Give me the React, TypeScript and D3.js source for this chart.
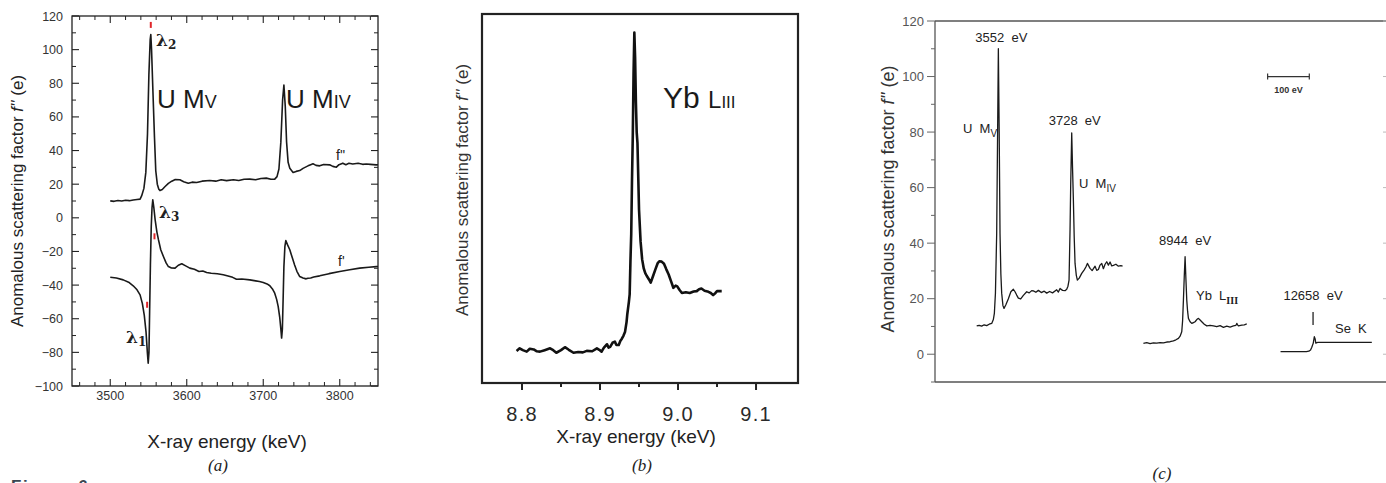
import React from 'react';
import * as d3 from 'd3';

// ---------------- Panel (a): U M edges, f'' and f' ----------------
const aXTicks = [3500, 3600, 3700, 3800];
const aYTicks = [-100, -80, -60, -40, -20, 0, 20, 40, 60, 80, 100, 120];
const aFpp: [number, number][] = [
  [3500, 10.1], [3505, 9.8], [3510, 10.3], [3515, 10], [3520, 10.4], [3525, 10.2], [3530, 10.6], [3535, 10.9],
  [3539, 11.1], [3541, 13], [3544, 17.5], [3546.5, 27], [3548.7, 50], [3550.5, 85], [3552.2, 106], [3553, 109],
  [3554, 100], [3555.8, 75], [3557.8, 48], [3559.5, 28], [3561.5, 20], [3563.5, 17], [3565, 16.2], [3568, 16.8],
  [3571.7, 18.6], [3576, 20.5], [3580.4, 21.8], [3585, 22.8], [3591, 22.6], [3596, 21.5], [3602, 20.6],
  [3607, 21.2], [3613, 21], [3620, 21.8], [3630, 22.2], [3638, 21.8], [3645, 22.6], [3652, 22.1], [3661, 22.6],
  [3668, 22.2], [3675, 22.9], [3682.5, 23], [3690, 22.6], [3697, 23.4], [3704, 23.6], [3710, 22.9], [3715, 23],
  [3718, 24.5], [3720.5, 29], [3723, 45], [3725.3, 70], [3727, 79], [3728.8, 66], [3730.5, 45], [3732.5, 33],
  [3734.7, 29.5], [3739, 27], [3743, 27.6], [3747.7, 28.1], [3752, 29.4], [3758.5, 30.9], [3762, 31.6],
  [3765, 32.1], [3769, 31.2], [3773.8, 30.9], [3779, 31.7], [3786.8, 31.5], [3791, 30.6], [3795.6, 30.1],
  [3799, 31.6], [3804, 32.5], [3808, 31.6], [3812, 32.4], [3817, 32], [3824, 32.4], [3830, 31.8],
  [3834.7, 32], [3840, 31.8], [3847.7, 31.5], [3850, 31.6],
];
const aFp: [number, number][] = [
  [3500, -35.3], [3508, -35.8], [3517, -36.9], [3524, -38.3], [3530, -40.4], [3535, -42.8], [3539, -45.8],
  [3542, -51], [3544.5, -58], [3546.8, -68], [3548.5, -80], [3549.6, -86.5], [3550.6, -80], [3551.5, -55],
  [3552.5, -28], [3553.6, -5], [3554.6, 6], [3555.6, 10.7], [3557, 6], [3558.7, -1.2], [3561, -8.5],
  [3563, -13], [3566, -19], [3569.5, -23], [3573, -26.8], [3576, -29], [3580, -29.8], [3584.7, -29.9],
  [3589, -28.2], [3593.5, -27.3], [3598, -28.4], [3604, -29.9], [3610, -30.6], [3616, -31.9], [3621, -31.6],
  [3626, -32.5], [3632, -33], [3640, -33.3], [3647.7, -33.9], [3654, -34.6], [3660, -35.4], [3665, -36.5],
  [3672, -36.4], [3682.5, -36.9], [3690, -37.5], [3695, -37.9], [3700, -38.5], [3705, -39.3], [3708.6, -40.4],
  [3712, -42.3], [3715, -44.8], [3717.5, -48.5], [3719.5, -52.7], [3721.5, -59], [3723, -66], [3724, -71.5],
  [3725, -66], [3726, -48], [3727, -29], [3728.3, -17], [3729.5, -13.5], [3731.5, -15.8], [3734.7, -19],
  [3738, -23.8], [3741, -28], [3744, -31.8], [3747.7, -34.9], [3752, -35.8], [3756, -36.3], [3758.5, -35.9],
  [3762, -35.8], [3766, -35.2], [3773.8, -34.5], [3786, -33.2], [3800, -31.9], [3813, -30.9], [3826, -29.9],
  [3838, -29.4], [3847.7, -29], [3850, -28.9],
];
const aMarkers: [number, number][] = [[3548.2, -51.7], [3553, 114.7], [3557.8, -11]];

// ---------------- Panel (b): Yb L_III ----------------
const bXTicks = [8.8, 8.9, 9.0, 9.1];
const bXTickLabels = ['8.8', '8.9', '9.0', '9.1'];
const bXMinorTicks = [8.85, 8.95, 9.05];
const bYb: [number, number][] = [
  [8.793, 8.7], [8.797, 9.4], [8.801, 8.9], [8.806, 8.5], [8.810, 9.3], [8.815, 9.1], [8.819, 8.6],
  [8.823, 8.5], [8.829, 8.9], [8.836, 9.4], [8.840, 8.9], [8.844, 8.2], [8.850, 8.9], [8.855, 9.7],
  [8.860, 9.0], [8.866, 8.2], [8.872, 8.4], [8.878, 8.3], [8.883, 8.7], [8.890, 8.6], [8.896, 9.4],
  [8.899, 9.0], [8.902, 8.5], [8.905, 9.6], [8.909, 10.5], [8.911, 9.6], [8.913, 9.8], [8.916, 10.9],
  [8.919, 11.2], [8.921, 10.3], [8.924, 10.3], [8.926, 11.4], [8.928, 12], [8.930, 12.8], [8.932, 13.8],
  [8.934, 16.5], [8.935, 18.7], [8.937, 22], [8.938, 24], [8.939, 33], [8.940, 40.3], [8.941, 55],
  [8.942, 67], [8.943, 84], [8.944, 95], [8.945, 88], [8.946, 76], [8.947, 68], [8.948, 65], [8.949, 56],
  [8.950, 47], [8.952, 38.3], [8.954, 33.5], [8.956, 31.1], [8.958, 29.8], [8.960, 29], [8.963, 28],
  [8.965, 27.2], [8.968, 29], [8.971, 30.8], [8.974, 32.5], [8.976, 33], [8.979, 32.9], [8.982, 32.3],
  [8.985, 30.8], [8.988, 29.4], [8.991, 27.6], [8.994, 25.8], [8.997, 26.4], [8.999, 26.2], [9.002, 25.2],
  [9.005, 24.4], [9.010, 24.6], [9.015, 24.4], [9.020, 24.8], [9.024, 24.9], [9.027, 25.4], [9.030, 25.6],
  [9.034, 25], [9.039, 24.7], [9.042, 24.4], [9.045, 23.8], [9.048, 24.4], [9.050, 24.9], [9.056, 24.9],
];

// ---------------- Panel (c): f'' of several edges ----------------
const cYTicks = [0, 20, 40, 60, 80, 100, 120];
const cYMinorTicks = [-10, 10, 30, 50, 70, 90, 110];
// energy offsets (eV) used to place each spectrum piece on the broken energy axis
const cOffsetU = 0;
const cOffsetYb = 4944;
const cOffsetSe = 8351;
const cU: [number, number][] = [
  [3500, 10.2], [3506, 10.4], [3512, 10.1], [3518, 10.6], [3524, 10.3], [3530, 10.8], [3536, 11.1],
  [3540, 12.5], [3542.4, 14.7], [3545, 22], [3548, 43.5], [3550.5, 85], [3552, 110], [3554, 80],
  [3556, 43.5], [3558, 29], [3560, 22], [3563, 17.5], [3565.6, 16.5], [3570, 17.8], [3576, 20],
  [3582, 22.5], [3588, 23.4], [3592, 22.5], [3596, 21.3], [3600, 20.2], [3605.6, 19.9], [3612, 21.2],
  [3620, 22.5], [3626, 22.1], [3632, 22.9], [3636, 22.8], [3642, 22.3], [3648, 23], [3655, 22.2],
  [3662, 22.7], [3668, 22], [3675, 22.6], [3682, 22.1], [3692, 23.2], [3696, 22.4], [3700, 23.7],
  [3706, 23], [3712, 22.9], [3716, 23.4], [3719, 24.5], [3721.6, 26.7], [3724, 45], [3725.6, 61.5],
  [3728, 79.7], [3730, 67], [3732, 55.5], [3734, 42], [3736, 32.7], [3739, 28.4], [3741.6, 26.7],
  [3746, 27.4], [3752, 29.1], [3758, 30.4], [3762, 31.4], [3765.6, 32.7], [3772, 30.9], [3777, 30.1],
  [3784, 31.7], [3788, 30.2], [3792, 30.5], [3796, 32.1], [3800, 32.7], [3804, 30.8], [3808, 32.4],
  [3812, 33.3], [3816, 32.1], [3820, 33.2], [3824, 31.8], [3828, 32], [3834, 32.4], [3840, 31.7],
  [3846, 31.9], [3850, 31.7],
];
const cYb: [number, number][] = [
  [8844, 3.95], [8852, 4.2], [8860, 3.8], [8868, 4.1], [8876, 4], [8884, 4.2], [8892, 4.1], [8900, 4.4],
  [8908, 4.5], [8916, 4.8], [8922, 5.2], [8928, 5.7], [8932, 6.5], [8936, 8.1], [8938, 12], [8940, 19.5],
  [8942, 28], [8944, 35.1], [8946, 27], [8948, 19.5], [8950, 15.5], [8952, 12.9], [8956, 11.7], [8960, 11.1],
  [8964, 11.4], [8968, 11.7], [8972, 12.5], [8976, 12.9], [8980, 12.3], [8984, 11.7], [8990, 10.8],
  [8996, 10.2], [9004, 10.4], [9012, 10.2], [9020, 9.9], [9028, 10.3], [9036, 9.7], [9044, 10.1],
  [9052, 9.8], [9060, 10.2], [9066, 10.4], [9068, 11.1], [9070, 10.6], [9072, 10.2], [9080, 10.5],
  [9086, 10.6], [9092, 10.9],
];
const cSe: [number, number][] = [
  [12580, 0.95], [12600, 0.95], [12620, 0.95], [12642, 0.95], [12648, 1.1], [12652, 1.5], [12655, 2.5],
  [12658.5, 4], [12661, 6.3], [12663, 5.5], [12664.6, 4], [12667, 4.2], [12670, 4.3], [12700, 4.3],
  [12750, 4.3], [12799, 4.3],
];
const cScaleBar = { start: 4198, length: 100, level: 100 };

const FONT = 'Liberation Sans, Arial, Helvetica, sans-serif';

export default function App() {
  // ---- scales ----
  const xA = d3.scaleLinear().domain([3450, 3850]).range([72, 378]);
  const yA = d3.scaleLinear().domain([-100, 120]).range([386, 16]);
  const xB = d3.scaleLinear().domain([8.7487, 9.1538]).range([482, 798]);
  const yB = d3.scaleLinear().domain([0, 100]).range([383, 14]);
  const xC = d3.scaleLinear().domain([3400, 4482]).range([935, 1386]);
  const yC = d3.scaleLinear().domain([-10, 120]).range([382, 21]);

  const lineA = d3.line<[number, number]>().x(d => xA(d[0])).y(d => yA(d[1]));
  const lineB = d3.line<[number, number]>().x(d => xB(d[0])).y(d => yB(d[1]));
  const lineC = (off: number) =>
    d3.line<[number, number]>().x(d => xC(d[0] - off)).y(d => yC(d[1]));

  const [ax0, ax1] = xA.range();
  const [ay0, ay1] = [yA.range()[1], yA.range()[0]];
  const aXMinor = d3.range(3460, 3850, 20).filter(v => v % 100 !== 0);
  const aYMinor = d3.range(-90, 120, 10).filter(v => v % 20 !== 0);
  const fmt = (v: number) => String(v).replace('-', '\u2212');

  const [bx0, bx1] = xB.range();
  const [by1, by0] = yB.range();
  const [cx0, cx1] = xC.range();
  const [cy1, cy0] = yC.range();

  return (
    <svg width={1386} height={483} style={{ position: 'absolute', left: 0, top: 0, background: '#fff' }}
      fontFamily={FONT}>
      <rect x={0} y={0} width={1386} height={483} fill="#fff" />

      {/* ================= Panel (a) ================= */}
      <g>
        <rect x={ax0} y={ay0} width={ax1 - ax0} height={ay1 - ay0} fill="none" stroke="#222" strokeWidth={1.3} />
        {aXTicks.map(t => (
          <g key={'axt' + t}>
            <line x1={xA(t)} x2={xA(t)} y1={ay1} y2={ay1 - 7} stroke="#222" strokeWidth={1.1} />
            <line x1={xA(t)} x2={xA(t)} y1={ay0} y2={ay0 + 7} stroke="#222" strokeWidth={1.1} />
            <text x={xA(t)} y={400} fontSize={12.5} textAnchor="middle" fill="#333">{t}</text>
          </g>
        ))}
        {aXMinor.map(t => (
          <g key={'axm' + t}>
            <line x1={xA(t)} x2={xA(t)} y1={ay1} y2={ay1 - 4} stroke="#222" strokeWidth={1} />
            <line x1={xA(t)} x2={xA(t)} y1={ay0} y2={ay0 + 4} stroke="#222" strokeWidth={1} />
          </g>
        ))}
        {aYTicks.map(t => (
          <g key={'ayt' + t}>
            <line x1={ax0} x2={ax0 + 7} y1={yA(t)} y2={yA(t)} stroke="#222" strokeWidth={1.1} />
            <line x1={ax1} x2={ax1 - 7} y1={yA(t)} y2={yA(t)} stroke="#222" strokeWidth={1.1} />
            <text x={63} y={yA(t) + 4.5} fontSize={12.5} textAnchor="end" fill="#333">{fmt(t)}</text>
          </g>
        ))}
        {aYMinor.map(t => (
          <g key={'aym' + t}>
            <line x1={ax0} x2={ax0 + 4} y1={yA(t)} y2={yA(t)} stroke="#222" strokeWidth={1} />
            <line x1={ax1} x2={ax1 - 4} y1={yA(t)} y2={yA(t)} stroke="#222" strokeWidth={1} />
          </g>
        ))}
        <path d={lineA(aFpp) || ''} fill="none" stroke="#1a1a1a" strokeWidth={1.6} strokeLinejoin="round" />
        <path d={lineA(aFp) || ''} fill="none" stroke="#1a1a1a" strokeWidth={1.6} strokeLinejoin="round" />
        {aMarkers.map((m, i) => (
          <line key={'am' + i} x1={xA(m[0])} x2={xA(m[0])} y1={yA(m[1]) - 3} y2={yA(m[1]) + 3}
            stroke="#e0262a" strokeWidth={2} />
        ))}
        {/* annotations */}
        <text x={156} y={46} fontSize={17} fontWeight="bold" fill="#222" fontFamily="DejaVu Serif, serif">
          λ<tspan fontSize={12} dy={3}>2</tspan>
        </text>
        <text x={159} y={218} fontSize={17} fontWeight="bold" fill="#222" fontFamily="DejaVu Serif, serif">
          λ<tspan fontSize={12} dy={3}>3</tspan>
        </text>
        <text x={126} y={343} fontSize={17} fontWeight="bold" fill="#222" fontFamily="DejaVu Serif, serif">
          λ<tspan fontSize={12} dy={3}>1</tspan>
        </text>
        <text x={157} y={108} fontSize={26} fill="#1a1a1a">U <tspan>M</tspan><tspan fontSize={18}>V</tspan></text>
        <text x={286} y={108} fontSize={26} fill="#1a1a1a">U <tspan>M</tspan><tspan fontSize={18}>IV</tspan></text>
        <text x={336} y={160} fontSize={14} fill="#222">f''</text>
        <text x={338} y={266} fontSize={14} fill="#222">f'</text>
        {/* axis labels */}
        <text transform="translate(23,201) rotate(-90)" fontSize={17} textAnchor="middle" fill="#222">
          Anomalous scattering factor <tspan fontStyle="italic">f''</tspan> (e)
        </text>
        <text x={227} y={448} fontSize={19} textAnchor="middle" fill="#222">X-ray energy (keV)</text>
        <text x={218} y={471} fontSize={17} textAnchor="middle" fontStyle="italic" fill="#222"
          fontFamily="Liberation Serif, Times New Roman, serif">(a)</text>
        <text x={11} y={492} fontSize={17} fontWeight="bold" fill="#3a4652" letterSpacing={1.5}>Figure 6</text>
      </g>

      {/* ================= Panel (b) ================= */}
      <g>
        <rect x={bx0} y={by0} width={bx1 - bx0} height={by1 - by0} fill="none" stroke="#222" strokeWidth={2.2} />
        {bXTicks.map((t, i) => (
          <g key={'bxt' + t}>
            <line x1={xB(t)} x2={xB(t)} y1={by1} y2={by1 + 7} stroke="#222" strokeWidth={2} />
            <text x={xB(t)} y={421} fontSize={20} textAnchor="middle" fill="#2a2a2a" letterSpacing={1.2}>
              {bXTickLabels[i]}
            </text>
          </g>
        ))}
        {bXMinorTicks.map(t => (
          <line key={'bxm' + t} x1={xB(t)} x2={xB(t)} y1={by1} y2={by1 + 4} stroke="#222" strokeWidth={2} />
        ))}
        <path d={lineB(bYb) || ''} fill="none" stroke="#111" strokeWidth={2.6} strokeLinejoin="round" />
        <text x={663} y={108} fontSize={30} fill="#1a1a1a">Yb <tspan fontSize={24}>L</tspan><tspan fontSize={17}>III</tspan></text>
        <text transform="translate(468,190) rotate(-90)" fontSize={17} textAnchor="middle" fill="#333">
          Anomalous scattering factor <tspan fontStyle="italic">f''</tspan> (e)
        </text>
        <text x={636} y={443} fontSize={19} textAnchor="middle" fill="#222">X-ray energy (keV)</text>
        <text x={642} y={471} fontSize={17} textAnchor="middle" fontStyle="italic" fill="#222"
          fontFamily="Liberation Serif, Times New Roman, serif">(b)</text>
      </g>

      {/* ================= Panel (c) ================= */}
      <g>
        <line x1={cx0} x2={cx0} y1={cy0} y2={cy1} stroke="#555" strokeWidth={1.3} />
        <line x1={cx0} x2={cx1} y1={cy0} y2={cy0} stroke="#555" strokeWidth={1.3} />
        <line x1={cx0} x2={cx1} y1={cy1} y2={cy1} stroke="#555" strokeWidth={1.3} />
        {cYTicks.map(t => (
          <g key={'cyt' + t}>
            <line x1={cx0} x2={cx0 - 8} y1={yC(t)} y2={yC(t)} stroke="#666" strokeWidth={1} />
            <line x1={cx1} x2={cx1 - 3} y1={yC(t)} y2={yC(t)} stroke="#bbb" strokeWidth={1} />
            <text x={924} y={yC(t) + 4.5} fontSize={13} textAnchor="end" fill="#555">{t}</text>
          </g>
        ))}
        {cYMinorTicks.map(t => (
          <line key={'cym' + t} x1={cx0} x2={cx0 - 4} y1={yC(t)} y2={yC(t)} stroke="#666" strokeWidth={1} />
        ))}
        <path d={lineC(cOffsetU)(cU) || ''} fill="none" stroke="#1a1a1a" strokeWidth={1.3} strokeLinejoin="round" />
        <path d={lineC(cOffsetYb)(cYb) || ''} fill="none" stroke="#1a1a1a" strokeWidth={1.3} strokeLinejoin="round" />
        <path d={lineC(cOffsetSe)(cSe) || ''} fill="none" stroke="#1a1a1a" strokeWidth={1.3} strokeLinejoin="round" />
        {/* scale bar */}
        <line x1={xC(cScaleBar.start)} x2={xC(cScaleBar.start + cScaleBar.length)}
          y1={yC(cScaleBar.level)} y2={yC(cScaleBar.level)} stroke="#333" strokeWidth={1.3} />
        <line x1={xC(cScaleBar.start)} x2={xC(cScaleBar.start)} y1={yC(cScaleBar.level) - 3} y2={yC(cScaleBar.level) + 3} stroke="#333" strokeWidth={1.2} />
        <line x1={xC(cScaleBar.start + cScaleBar.length)} x2={xC(cScaleBar.start + cScaleBar.length)} y1={yC(cScaleBar.level) - 3} y2={yC(cScaleBar.level) + 3} stroke="#333" strokeWidth={1.2} />
        <text x={xC(cScaleBar.start + cScaleBar.length / 2)} y={93} fontSize={9} fontWeight="bold" textAnchor="middle" fill="#333">100 eV</text>
        {/* peak annotations */}
        <text x={xC(3552) + 3} y={42} fontSize={13} textAnchor="middle" fill="#222" style={{ whiteSpace: 'pre' }}>3552  eV</text>
        <text x={963} y={133} fontSize={13} fill="#222" style={{ whiteSpace: 'pre' }}>U  M<tspan fontSize={10} dy={4}>V</tspan></text>
        <text x={xC(3728) + 3} y={125} fontSize={13} textAnchor="middle" fill="#222" style={{ whiteSpace: 'pre' }}>3728  eV</text>
        <text x={1079} y={188} fontSize={13} fill="#222" style={{ whiteSpace: 'pre' }}>U  M<tspan fontSize={10} dy={4}>IV</tspan></text>
        <text x={xC(8944 - cOffsetYb)} y={245} fontSize={13} textAnchor="middle" fill="#222" style={{ whiteSpace: 'pre' }}>8944  eV</text>
        <text x={1196} y={300} fontSize={13} fill="#222" style={{ whiteSpace: 'pre' }}>Yb  L<tspan fontSize={10} dy={4} fontWeight="bold"
          fontFamily="Liberation Serif, serif">III</tspan></text>
        <text x={xC(12658 - cOffsetSe)} y={300} fontSize={13} textAnchor="middle" fill="#222" style={{ whiteSpace: 'pre' }}>12658  eV</text>
        <line x1={xC(12658 - cOffsetSe)} x2={xC(12658 - cOffsetSe)} y1={312} y2={325} stroke="#222" strokeWidth={1.3} />
        <text x={1335} y={333} fontSize={13} fill="#222" style={{ whiteSpace: 'pre' }}>Se  K</text>
        <text transform="translate(894,199) rotate(-90)" fontSize={18} textAnchor="middle" fill="#333">
          Anomalous scattering factor <tspan fontStyle="italic">f''</tspan> (e)
        </text>
        <text x={1162} y={479} fontSize={17} textAnchor="middle" fontStyle="italic" fill="#222"
          fontFamily="Liberation Serif, Times New Roman, serif">(c)</text>
      </g>
    </svg>
  );
}
